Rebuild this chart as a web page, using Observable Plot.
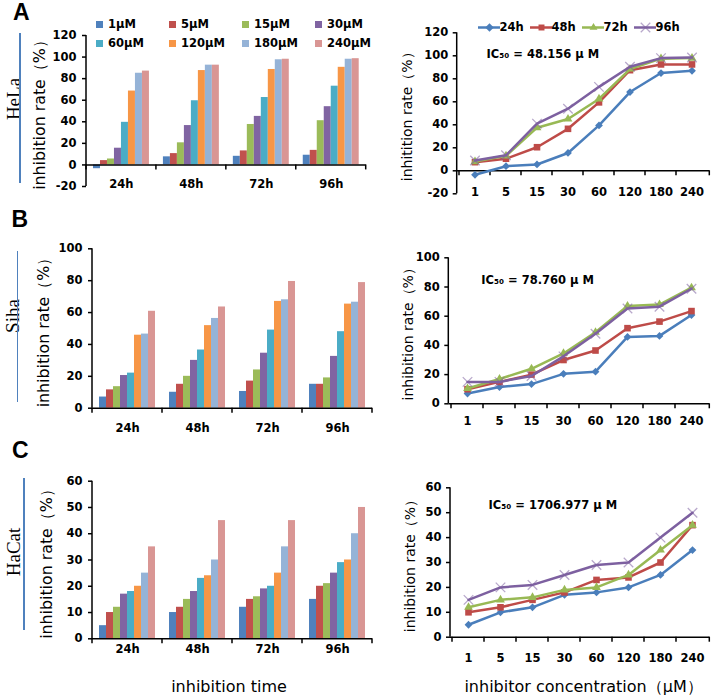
<!DOCTYPE html>
<html>
<head>
<meta charset="utf-8">
<script src="https://cdn.jsdelivr.net/npm/d3@7"></script>
<script src="https://cdn.jsdelivr.net/npm/@observablehq/plot@0.6"></script>
<style>
html,body{margin:0;padding:0;background:#fff;}
#root{position:relative;width:716px;height:697px;overflow:hidden;background:#fff;}
.letter{position:absolute;font:bold 23px "Liberation Sans",Arial,sans-serif;line-height:23px;color:#000;}
.cell{position:absolute;font:19px "Liberation Serif","Times New Roman",serif;line-height:1;white-space:nowrap;color:#000;transform:translate(-50%,-50%) rotate(-90deg);}
.vline{position:absolute;width:1.5px;background:#4F81BD;}
.legA-swatches{display:flex !important;flex-wrap:wrap;width:300px;min-height:0 !important;margin:0 !important;font:bold 11.5px "DejaVu Sans",sans-serif !important;color:#000;}
.legA-swatch{width:73px;height:19px;margin:0 !important;display:inline-flex;align-items:center;}
.legA-swatch > svg{margin-right:5px !important;}
</style>
</head>
<body>
<div id="root"></div>
<script>
// ---------- data ----------
const times = ["24h", "48h", "72h", "96h"];
const concs = ["1µM", "5µM", "15µM", "30µM", "60µM", "120µM", "180µM", "240µM"];
const concLabels = ["1", "5", "15", "30", "60", "120", "180", "240"];
const concColors = ["#4F81BD", "#C0504D", "#9BBB59", "#8064A2", "#4BACC6", "#F79646", "#95B3D7", "#D99694"];
const lineColors = ["#4A7EBB", "#BE4B48", "#98B954", "#7D60A0"];
const lineSymbols = ["diamond2", "square2", "triangle2", "times"];

// HeLa inhibition rate (%) per time, by concentration
const hela24h = [-3.5, 4, 5.5, 15.5, 39.5, 68.5, 85, 87];
const hela48h = [7.5, 10.5, 20.5, 36.5, 59.5, 87.5, 92.5, 92.5];
const hela72h = [8, 13, 37.5, 45, 62.5, 88.5, 97.5, 98];
const hela96h = [9, 13.5, 41, 54, 73, 90.5, 98, 98.5];
// Siha
const siha24h = [7, 11.5, 13.5, 20.5, 22, 45.8, 46.5, 60.8];
const siha48h = [10, 15, 20, 30, 36.5, 51.8, 56.3, 63.5];
const siha72h = [10.5, 17, 24, 34.5, 49, 67, 68, 79.5];
const siha96h = [15, 15, 19, 32.5, 48, 65.3, 66.5, 78.8];
// HaCat
const hacat24h = [5, 10, 12, 17, 18, 20, 25, 35];
const hacat48h = [10, 12, 15, 18, 23, 24, 30, 45];
const hacat72h = [12, 15, 16, 19, 20, 25, 35, 45];
const hacat96h = [15, 20, 21, 25, 29, 30, 40, 50];

const yTicksA = [-20, 0, 20, 40, 60, 80, 100, 120];
const yTicksB = [0, 20, 40, 60, 80, 100];
const yTicksC = [0, 10, 20, 30, 40, 50, 60];

const ic50A = "IC₅₀ = 48.156 μ M";
const ic50B = "IC₅₀ = 78.760 μ M";
const ic50C = "IC₅₀ = 1706.977 μ M";
const barYTitle = "inhibition rate（%）";
const lineYTitleA = "inhitition rate（%）";
const lineYTitle = "inhibition rate（%）";
const barXTitle = "inhibition time";
const lineXTitle = "inhibitor concentration（μM）";

// ---------- helpers ----------
const root = document.getElementById("root");
const FONT = "DejaVu Sans, sans-serif";
const baseStyle = {fontFamily: FONT, fontSize: "11.5px", fontWeight: "bold", color: "#000", background: "transparent", overflow: "visible"};
const markerR = [3.5, 4.2, 4.2, 4.4];

function place(el, left, top, w) {
  const d = document.createElement("div");
  d.style.cssText = `position:absolute;left:${left}px;top:${top}px;` + (w ? `width:${w}px;` : "");
  d.appendChild(el);
  root.appendChild(d);
  return d;
}

// y-axis line and small category-boundary ticks, placed through the plot's own scales
function axisLines({yMin, yMax, edgeKeys, tickLen = 5}) {
  return (index, scales) => {
    const x = scales.x, y = scales.y;
    const [xa, xb] = x.range();
    const g = d3.create("svg:g").attr("stroke", "#000").attr("stroke-width", 1.5).attr("fill", "none");
    g.append("line").attr("x1", xa).attr("x2", xa).attr("y1", y(yMax)).attr("y2", y(yMin));
    const y0 = y(0);
    for (const xv of [...edgeKeys.map(k => x(k)), xb]) {
      g.append("line").attr("x1", xv).attr("x2", xv).attr("y1", y0).attr("y2", y0 + tickLen);
    }
    return g.node();
  };
}

function yTitleMark(text, dx, size) {
  return Plot.text([text], {frameAnchor: "left", textAnchor: "middle", lineAnchor: "middle", rotate: -90, dx, fontSize: size, fontWeight: "normal"});
}
function xTitleMark(text, dx, dy) {
  return Plot.text([text], {frameAnchor: "bottom", textAnchor: "middle", lineAnchor: "middle", dx, dy, fontSize: 16, fontWeight: "normal"});
}

function barPanel(c) {
  const rows = times.flatMap((t, i) => concs.map((k, j) => ({time: t, conc: k, value: c.series[i][j]})));
  const xDomain = times.flatMap(t => [t + "|L", ...concs.map(k => t + "|" + k), t + "|R"]);
  const bw = (c.width - c.mL - c.mR) / xDomain.length;
  const marks = [
    Plot.barY(rows, {x: d => d.time + "|" + d.conc, y: "value", fill: "conc"}),
    Plot.ruleY([0], {stroke: "#000", strokeWidth: 1.5}),
    axisLines({yMin: c.yDomain[0], yMax: c.yDomain[1], edgeKeys: times.map(t => t + "|L")}),
    Plot.axisY({ticks: c.yTicks, tickFormat: d => String(d), tickSize: 4, tickPadding: 6, label: null, strokeWidth: 1.5}),
    Plot.text(times, {x: t => t + "|" + concs[4], text: t => t, frameAnchor: "bottom", textAnchor: "middle", lineAnchor: "top", dx: -bw / 2, dy: c.labelDy}),
    yTitleMark(c.yTitle, c.titleDx, 15.8)
  ];
  if (c.xTitle) marks.push(xTitleMark(c.xTitle, c.xTitleDx, c.xTitleDy));
  const svg = Plot.plot({
    width: c.width, height: c.height,
    marginLeft: c.mL, marginRight: c.mR, marginTop: c.mT, marginBottom: c.mB,
    style: baseStyle,
    x: {type: "band", domain: xDomain, padding: 0, axis: null},
    y: {domain: c.yDomain},
    color: {domain: concs, range: concColors},
    marks
  });
  place(svg, c.left, c.top, c.width);
  return svg;
}

function linePanel(c) {
  const rows = times.flatMap((t, i) => concLabels.map((k, j) => ({time: t, conc: k, value: c.series[i][j]})));
  const marks = [
    Plot.ruleY([0], {stroke: "#000", strokeWidth: 1.5}),
    axisLines({yMin: c.yDomain[0], yMax: c.yDomain[1], edgeKeys: concLabels}),
    Plot.axisY({ticks: c.yTicks, tickFormat: d => String(d), tickSize: 4, tickPadding: 5, label: null, strokeWidth: 1.5}),
    Plot.axisX({tickSize: 0, tickPadding: c.labelPad, label: null}),
    ...times.flatMap((t, i) => {
      const sub = rows.filter(d => d.time === t);
      const dot = t === "96h"
        ? Plot.dot(sub, {x: "conc", y: "value", symbol: "time", stroke: "time", strokeOpacity: 0.55, strokeWidth: 1.3, r: markerR[i]})
        : Plot.dot(sub, {x: "conc", y: "value", symbol: "time", fill: "time", r: markerR[i]});
      return [Plot.line(sub, {x: "conc", y: "value", stroke: "time", strokeWidth: 2.5}), dot];
    }),
    Plot.text([c.ic50], {frameAnchor: "top-left", textAnchor: "start", lineAnchor: "middle", dx: c.icDx, dy: c.icDy, fontSize: 11.5}),
    yTitleMark(c.yTitle, c.titleDx, 14)
  ];
  if (c.xTitle) marks.push(xTitleMark(c.xTitle, c.xTitleDx, c.xTitleDy));
  const svg = Plot.plot({
    width: c.width, height: c.height,
    marginLeft: c.mL, marginRight: c.mR, marginTop: c.mT, marginBottom: c.mB,
    style: baseStyle,
    x: {type: "band", domain: concLabels, padding: 0},
    y: {domain: c.yDomain},
    color: {domain: times, range: lineColors},
    symbol: {domain: times, range: lineSymbols},
    marks
  });
  place(svg, c.left, c.top, c.width);
  return svg;
}

// ---------- panels ----------
barPanel({series: [hela24h, hela48h, hela72h, hela96h], left: 0, top: 0, width: 372, height: 200,
  mL: 86, mR: 6.3, mT: 35, mB: 14, yDomain: [-20, 120], yTicks: yTicksA, labelDy: -6.2,
  yTitle: barYTitle, titleDx: -47});
linePanel({series: [hela24h, hela48h, hela72h, hela96h], left: 372, top: 0, width: 344, height: 205,
  mL: 84.7, mR: 6.7, mT: 32.3, mB: 11.7, yDomain: [-20, 120], yTicks: yTicksA, labelPad: -5.6,
  ic50: ic50A, icDx: 29.3, icDy: 22, yTitle: lineYTitleA, titleDx: -49.7});

barPanel({series: [siha24h, siha48h, siha72h, siha96h], left: 0, top: 200, width: 380, height: 245,
  mL: 92, mR: 8, mT: 48.3, mB: 37.3, yDomain: [0, 100], yTicks: yTicksB, labelDy: 16,
  yTitle: barYTitle, titleDx: -48.7});
linePanel({series: [siha24h, siha48h, siha72h, siha96h], left: 380, top: 200, width: 336, height: 245,
  mL: 68.3, mR: 6.7, mT: 57.3, mB: 41.7, yDomain: [0, 100], yTicks: yTicksB, labelPad: 13.4,
  ic50: ic50B, icDx: 32.4, icDy: 22.7, yTitle: lineYTitle, titleDx: -40});

barPanel({series: [hacat24h, hacat48h, hacat72h, hacat96h], left: 0, top: 445, width: 380, height: 252,
  mL: 92, mR: 8, mT: 35.7, mB: 58.7, yDomain: [0, 60], yTicks: yTicksC, labelDy: 6,
  yTitle: barYTitle, titleDx: -45.3, xTitle: barXTitle, xTitleDx: -3.5, xTitleDy: 48.4});
linePanel({series: [hacat24h, hacat48h, hacat72h, hacat96h], left: 380, top: 445, width: 336, height: 252,
  mL: 70, mR: 6.7, mT: 42.3, mB: 60.3, yDomain: [0, 60], yTicks: yTicksC, labelPad: 17,
  ic50: ic50C, icDx: 38, icDy: 17.7, yTitle: lineYTitle, titleDx: -40, xTitle: lineXTitle, xTitleDx: 3.4, xTitleDy: 50});

// ---------- legends ----------
const legA = Plot.legend({color: {domain: concs, range: concColors}, legend: "swatches", className: "legA", swatchSize: 7});
place(legA, 96, 14.5, 300);

const lineLegend = Plot.plot({
  width: 210, height: 20, margin: 0,
  style: baseStyle,
  x: {type: "band", domain: times, padding: 0, axis: null},
  y: {domain: [-1, 1], axis: null},
  color: {domain: times, range: lineColors},
  symbol: {domain: times, range: lineSymbols},
  marks: [
    Plot.tickY(times, {x: d => d, y: () => 0, stroke: d => d, strokeWidth: 2.5, insetRight: 30}),
    Plot.dot(times.slice(0, 3), {x: d => d, y: () => 0, symbol: d => d, fill: d => d, r: 3.8, dx: -15}),
    Plot.dot(times.slice(3), {x: d => d, y: () => 0, symbol: d => d, stroke: d => d, strokeOpacity: 0.55, strokeWidth: 1.3, r: 4.4, dx: -15}),
    Plot.text(times, {x: d => d, y: () => 0, text: d => d, textAnchor: "start", dx: -5})
  ]
});
place(lineLegend, 476.7, 16.7, 210);

// ---------- panel decorations ----------
function addDiv(cls, text, css) {
  const d = document.createElement("div");
  d.className = cls;
  if (text) d.textContent = text;
  d.style.cssText = css;
  root.appendChild(d);
}
addDiv("letter", "A", "left:13px;top:1px;");
addDiv("letter", "B", "left:11.5px;top:207.5px;");
addDiv("letter", "C", "left:12px;top:438.5px;");
addDiv("cell", "HeLa", "left:13.3px;top:98.5px;");
addDiv("cell", "Siha", "left:12px;top:316px;");
addDiv("cell", "HaCat", "left:12.5px;top:552px;");
addDiv("vline", "", "left:19.3px;top:33px;height:150px;");
addDiv("vline", "", "left:16.6px;top:250.7px;height:151px;");
addDiv("vline", "", "left:23.3px;top:478px;height:152px;");
</script>
</body>
</html>
